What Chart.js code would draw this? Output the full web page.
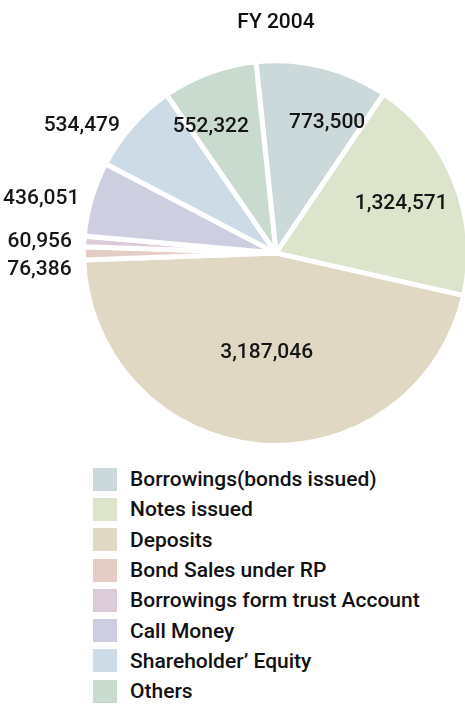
<!DOCTYPE html>
<html>
<head>
<meta charset="utf-8">
<script src="https://cdn.jsdelivr.net/npm/chart.js@4.4.1/dist/chart.umd.min.js"></script>
<style>
    html, body { margin: 0; padding: 0; background: #fff; }
    #wrap { width: 465px; height: 704px; overflow: hidden; position: relative; }
    #legend { list-style: none; margin: 4px 0 0 93px; padding: 0; font-family: Roboto, sans-serif; font-weight: 500; font-size: 21px; color: #111; }
    #legend li { height: 30.3px; display: flex; align-items: center; white-space: nowrap; }
    #legend span.box { display: inline-block; width: 24px; height: 23px; margin-right: 13px; }
</style>
</head>
<body>
<div id="wrap">
    <canvas id="pie" width="480" height="460"></canvas>
    <ul id="legend"></ul>
</div>
<script>
// Funding sources, FY 2004
const categories = [
    'Borrowings(bonds issued)',
    'Notes issued',
    'Deposits',
    'Bond Sales under RP',
    'Borrowings form trust Account',
    'Call Money',
    'Shareholder\u2019 Equity',
    'Others'
];
const amounts = [773500, 1324571, 3187046, 76386, 60956, 436051, 534479, 552322];
const sliceColors = ['#cbd9da', '#dce4cc', '#e1d8c4', '#e3cdc4', '#dccbd8', '#cdcfe0', '#cddbe6', '#c9dbcf'];
// which values get written outside the pie, on the left
const outsideLabels = [false, false, false, true, true, true, true, false];

const valueLabels = {
    id: 'valueLabels',
    afterDatasetsDraw(chart) {
        const ctx = chart.ctx;
        const meta = chart.getDatasetMeta(0);
        const inside = [];
        const outside = [];
        ctx.save();
        ctx.font = '500 21px Roboto';
        ctx.fillStyle = '#161616';
        ctx.textBaseline = 'middle';
        meta.data.forEach((arc, i) => {
            const p = arc.getProps(['x', 'y', 'startAngle', 'endAngle', 'outerRadius'], true);
            const mid = (p.startAngle + p.endAngle) / 2;
            const span = p.endAngle - p.startAngle;
            const text = amounts[i].toLocaleString('en-US');
            if (outsideLabels[i]) {
                outside.push({
                    text: text,
                    x: p.x + Math.cos(mid) * p.outerRadius - 12,
                    y: p.y + Math.sin(mid) * p.outerRadius
                });
            } else {
                const r = p.outerRadius * (span > 2 ? 0.52 : 0.7);
                inside.push({
                    text: text,
                    w: ctx.measureText(text).width,
                    x: p.x + Math.cos(mid) * r,
                    y: p.y + Math.sin(mid) * r
                });
            }
        });

        // spread inside labels that sit on the same row
        for (let a = 0; a < inside.length; a++) {
            for (let b = a + 1; b < inside.length; b++) {
                const la = inside[a], lb = inside[b];
                if (Math.abs(la.y - lb.y) > 24) continue;
                const gap = Math.abs(la.x - lb.x) - (la.w + lb.w) / 2;
                if (gap < 40) {
                    const shift = (40 - gap) / 2;
                    const dir = la.x < lb.x ? -1 : 1;
                    la.x += dir * shift;
                    lb.x -= dir * shift;
                }
            }
        }
        inside.forEach(l => {
            ctx.textAlign = 'center';
            ctx.fillText(l.text, l.x, l.y);
        });

        // keep the small left-hand labels from running into each other
        outside.sort((a, b) => a.y - b.y);
        let prev = -Infinity;
        outside.forEach(l => {
            l.y = Math.max(l.y, prev + 28);
            prev = l.y;
            ctx.textAlign = 'right';
            ctx.fillText(l.text, l.x, l.y);
        });
        ctx.restore();
    }
};

const chart = new Chart(document.getElementById('pie').getContext('2d'), {
    type: 'pie',
    data: {
        labels: categories,
        datasets: [{
            data: amounts,
            backgroundColor: sliceColors,
            borderColor: '#ffffff',
            borderWidth: 5
        }]
    },
    options: {
        responsive: false,
        animation: false,
        devicePixelRatio: 1,
        rotation: -6,
        layout: { padding: { left: 81, right: 9, top: 0, bottom: 12 } },
        plugins: {
            legend: { display: false },
            tooltip: { enabled: false },
            title: {
                display: true,
                text: 'FY 2004',
                fullSize: false,
                color: '#111',
                font: { family: 'Roboto', size: 21, weight: '500' },
                padding: { top: 10, bottom: 23 }
            }
        }
    },
    plugins: [valueLabels]
});

// Legend as a single column under the pie
const legend = document.getElementById('legend');
chart.data.labels.forEach((label, i) => {
    const li = document.createElement('li');
    const box = document.createElement('span');
    box.className = 'box';
    box.style.background = sliceColors[i];
    li.appendChild(box);
    li.appendChild(document.createTextNode(label));
    legend.appendChild(li);
});
</script>
</body>
</html>
